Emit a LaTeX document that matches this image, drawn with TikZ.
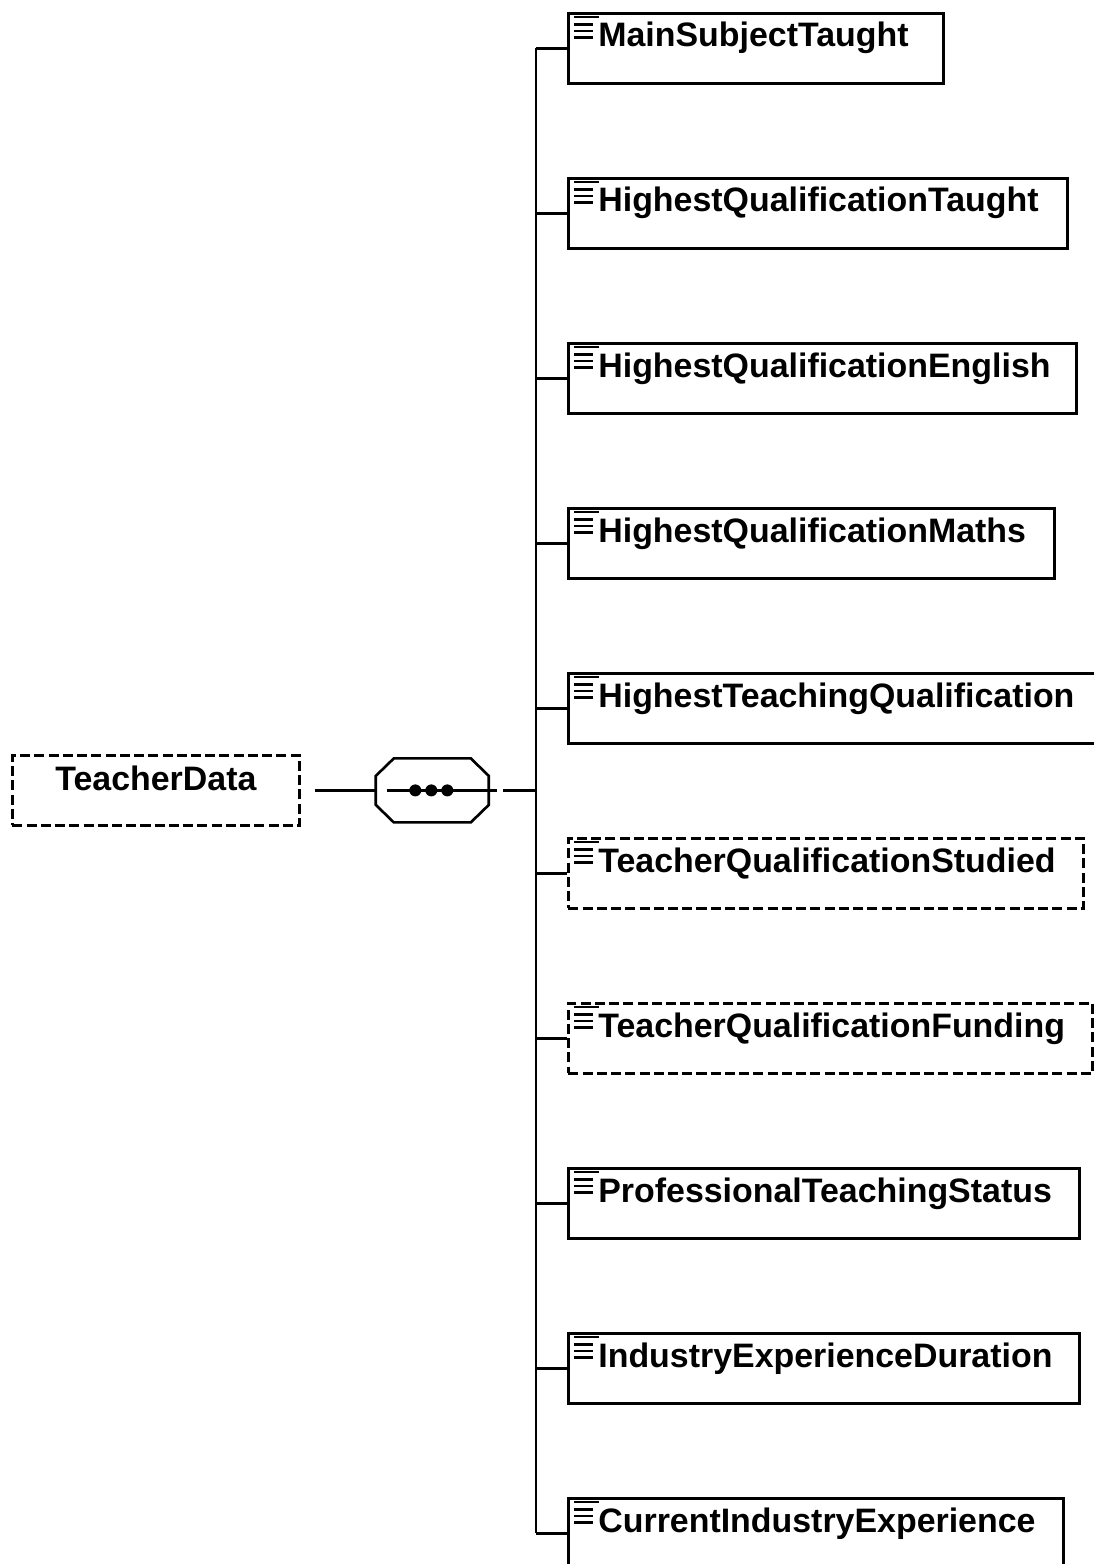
\documentclass[tikz,border=0pt]{standalone}
\usepackage{fontspec}
\setmainfont{Liberation Sans}
\usetikzlibrary{positioning, calc}

\tikzset{
  conn/.style={line width=1.5pt},
  required/.style={},
  optional/.style={dash pattern=on 5.7pt off 2.4pt},
  elembox/.style={draw, line width=1.6pt, anchor=north west, minimum height=1.4cm, inner sep=0pt},
  elemtext/.style={anchor=base west, inner sep=0pt, font=\fontsize{19.3}{23}\selectfont\bfseries},
  iconline/.style={line width=1.2pt}
}

\begin{document}
\begin{tikzpicture}[x=0.02cm, y=-0.02cm]
  \useasboundingbox (0,0) rectangle (1094,1564);

  % root element and sequence compositor
  \node[elembox, optional, minimum width=287*0.02cm] (root) at (11,754) {};
  \node[elemtext, anchor=base] (rootlbl) at ($(root.north)+(0,36)$) {TeacherData};
  \node[minimum width=113*0.02cm, minimum height=64*0.02cm, inner sep=0pt, outer sep=0pt,
        right=1.5cm of root] (seq) {};
  \draw[conn] ($(seq.west)+(0,-14.5)$) -- ($(seq.north west)+(18,0)$) -- ($(seq.north east)+(-18,0)$)
    -- ($(seq.east)+(0,-14.5)$) -- ($(seq.east)+(0,14.5)$) -- ($(seq.south east)+(-18,0)$)
    -- ($(seq.south west)+(18,0)$) -- ($(seq.west)+(0,14.5)$) -- cycle;
  \draw[conn] ($(seq.west)+(11,0)$) -- ($(seq.east)+(8,0)$);
  \foreach \d in {-17,-1,15}
    \fill ($(seq.center)+(\d,0)$) circle (0.12cm);
  \draw[conn] ($(root.east)+(14,0)$) -- (seq.west);

  % child elements
  \foreach \lbl/\w/\kind [count=\i] in {
      MainSubjectTaught/375/required,
      HighestQualificationTaught/499/required,
      HighestQualificationEnglish/508/required,
      HighestQualificationMaths/486/required,
      HighestTeachingQualification/540/required,
      TeacherQualificationStudied/515/optional,
      TeacherQualificationFunding/524/optional,
      ProfessionalTeachingStatus/511/required,
      IndustryExperienceDuration/511/required,
      CurrentIndustryExperience/495/required} {
    \node[elembox, \kind, minimum width=\w*0.02cm] (e\i) at (567,{12+(\i-1)*165}) {};
    \node[elemtext] (t\i) at ($(e\i.north west)+(31,35)$) {\lbl};
    \draw[iconline] ($(e\i.north west)+(7,5)$) -- ++(25,0);
    \foreach \dy in {12.5,19,25.5}
      \draw[iconline] ($(e\i.north west)+(7,\dy)$) -- ++(19,0);
    \draw[conn] (e\i.west) -- ++(-31,0) coordinate (b\i);
  }
  \draw[conn] (b1) -- (b10);
  \draw[conn] ($(seq.east)+(14,0)$) -- (seq -| b1);
\end{tikzpicture}
\end{document}
